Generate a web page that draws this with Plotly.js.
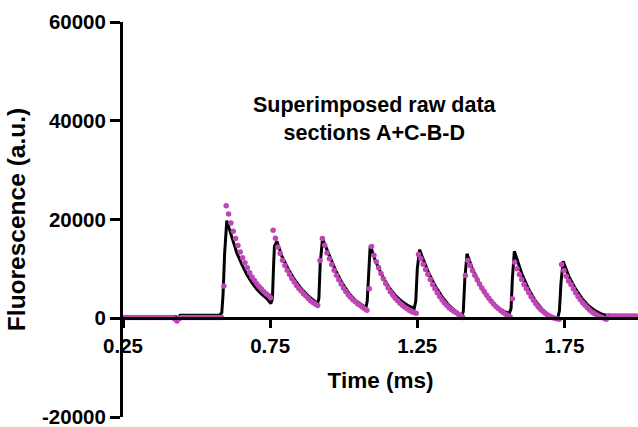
<!DOCTYPE html>
<html>
<head>
<meta charset="utf-8">
<script src="https://cdn.plot.ly/plotly-3.0.1.min.js"></script>
<style>html,body{margin:0;padding:0;background:#fff;}#chart{width:638px;height:427px;}</style>
</head>
<body>
<div id="chart"></div>
<script>
// Magenta raw data: evenly sampled, first sample at t0, spacing dt (ms)
var rawT0 = 0.25;
var rawDt = 0.00797;
var rawY = [
  150,150,150,150,150,150,150,150,150,150,
  150,150,150,150,150,150,150,150,150,150,
  150,150,-100,-550,-50,150,150,150,150,150,
  150,150,150,150,150,150,150,150,150,150,
  150,150,150,
  6510,
  22780,21100,19290,17600,16130,14720,13440,12230,11220,10210,9210,8330,7660,7000,6450,5900,5440,4980,4600,4150,
  17800,16190,14450,13100,11750,10680,9740,8870,8060,7320,6650,6050,5500,4980,4500,4000,3550,3200,2900,2600,
  11690,
  16130,14780,13240,12030,10890,9740,8730,7800,6920,6110,5440,4780,4230,3770,3370,2960,2620,2280,1900,1610,
  5990,
  14520,12760,11430,10220,9070,8000,7060,6190,5380,4700,4090,3570,3080,2680,2280,1950,1610,1350,1150,1010,
  12900,12030,10950,9880,8930,7860,6850,5990,5180,4430,3770,3160,2620,2150,1750,1410,1150,810,540,140,
  8670,
  11690,10700,9650,8700,7800,6950,6150,5400,4700,4050,3450,2900,2400,1950,1550,1200,850,550,300,
  3970,
  11350,10020,8870,7860,6850,5990,5180,4370,3630,2960,2350,1810,1410,1010,670,400,140,0,-100,-200,
  10890,9680,8530,7520,6850,5990,5180,4430,3770,3160,2620,2150,1680,1270,950,670,400,200,0,-200,
  500,450,450,450,450,450,450,450,450,450,450,450,450
];

// Black fitted/model trace
var modelT = [
  0.25,0.4303,0.4371,0.4439,0.5782,0.5857,0.5901,0.5952,0.6027,0.6139,0.6252,0.6367,0.6537,0.6707,0.6878,0.7048,0.7218,0.7388,0.7524,
  0.7578,0.7619,0.7646,0.7728,0.7898,0.8122,0.8350,0.8578,0.8803,0.9031,0.9109,
  0.9156,0.9201,0.9279,0.9483,0.9711,0.9939,1.0163,1.0391,1.0619,1.0755,
  1.0799,1.0844,1.0901,1.1071,1.1299,1.1524,1.1752,1.1980,1.2204,1.2398,
  1.2449,1.2500,1.2578,1.2660,1.2884,1.3112,1.3340,1.3565,1.3793,1.4020,
  1.4065,1.4116,1.4190,1.4361,1.4585,1.4813,1.5041,1.5265,1.5493,1.5629,
  1.5687,1.5731,1.5799,1.5946,1.6061,1.6286,1.6514,1.6741,1.6966,1.7194,1.7272,
  1.7330,1.7381,1.7456,1.7646,1.7874,1.8102,1.8327,1.8554,1.8782,1.9007,2.0
];
var modelY = [
  300,300,-300,600,650,1100,5000,13000,19760,17600,15260,13240,10890,8870,7200,5850,4840,3970,2960,
  4000,11000,14580,15580,12560,9880,7660,5850,4500,3370,2960,
  4000,11000,16070,13240,9880,7200,5180,3630,2620,2150,
  3500,10000,14780,11690,8730,6390,4640,3370,2480,2020,
  3500,10000,13910,12560,9210,6510,4370,2680,1480,340,
  1500,8000,13040,10220,7200,4840,3160,2020,1270,1010,
  2000,8000,13570,10890,8870,5850,3490,1810,670,140,0,
  1500,7000,11550,8530,5990,3970,2480,1480,810,470,470
];

var xTickVals = [0.25, 0.75, 1.25, 1.75];
var xTickText = ['0.25', '0.75', '1.25', '1.75'];
var yTickVals = [-20000, 0, 20000, 40000, 60000];
var yTickText = ['-20000', '0', '20000', '40000', '60000'];

var FONT = 'Liberation Sans, Arial, Helvetica, sans-serif';

var traces = [
  {
    type: 'scatter', mode: 'lines', x: modelT, y: modelY,
    line: {color: '#000000', width: 3}, hoverinfo: 'skip', showlegend: false
  },
  {
    type: 'scatter', mode: 'markers', x0: rawT0, dx: rawDt, y: rawY,
    marker: {color: '#BF45B5', size: 5.5, line: {width: 0}}, showlegend: false
  }
];

var layout = {
  width: 638, height: 427,
  margin: {l: 123, r: 0, t: 22, b: 10, pad: 0},
  paper_bgcolor: '#ffffff', plot_bgcolor: '#ffffff',
  showlegend: false,
  font: {family: FONT, color: '#000'},
  xaxis: {
    range: [0.25, 2.0],
    anchor: 'free', position: 0.25,
    tickvals: xTickVals, ticktext: xTickText,
    ticks: 'outside', ticklen: 8, tickwidth: 3, tickcolor: '#000',
    showline: true, linewidth: 3, linecolor: '#000',
    showgrid: false, zeroline: false,
    tickfont: {family: FONT, size: 20.5, weight: 'bold', color: '#000'},
    title: {text: 'Time (ms)', font: {family: FONT, size: 22.5, weight: 'bold', color: '#000'}, standoff: 16}
  },
  yaxis: {
    range: [-20000, 60000],
    tickvals: yTickVals, ticktext: yTickText,
    ticks: 'outside', ticklen: 10, tickwidth: 3, tickcolor: '#000',
    showline: true, linewidth: 3, linecolor: '#000',
    showgrid: false, zeroline: false,
    ticklabeloverflow: 'allow',
    tickfont: {family: FONT, size: 20.5, weight: 'bold', color: '#000'},
    title: {text: 'Fluorescence (a.u.)', font: {family: FONT, size: 24.5, weight: 'bold', color: '#000'}, standoff: 10}
  },
  annotations: [{
    xref: 'paper', yref: 'paper', x: 0.49, y: 0.755,
    xanchor: 'center', yanchor: 'middle', showarrow: false, align: 'center',
    text: 'Superimposed raw data<br>sections A+C-B-D',
    font: {family: FONT, size: 21.5, weight: 'bold', color: '#000'}
  }]
};

Plotly.newPlot('chart', traces, layout, {displayModeBar: false, staticPlot: true});
</script>
</body>
</html>
